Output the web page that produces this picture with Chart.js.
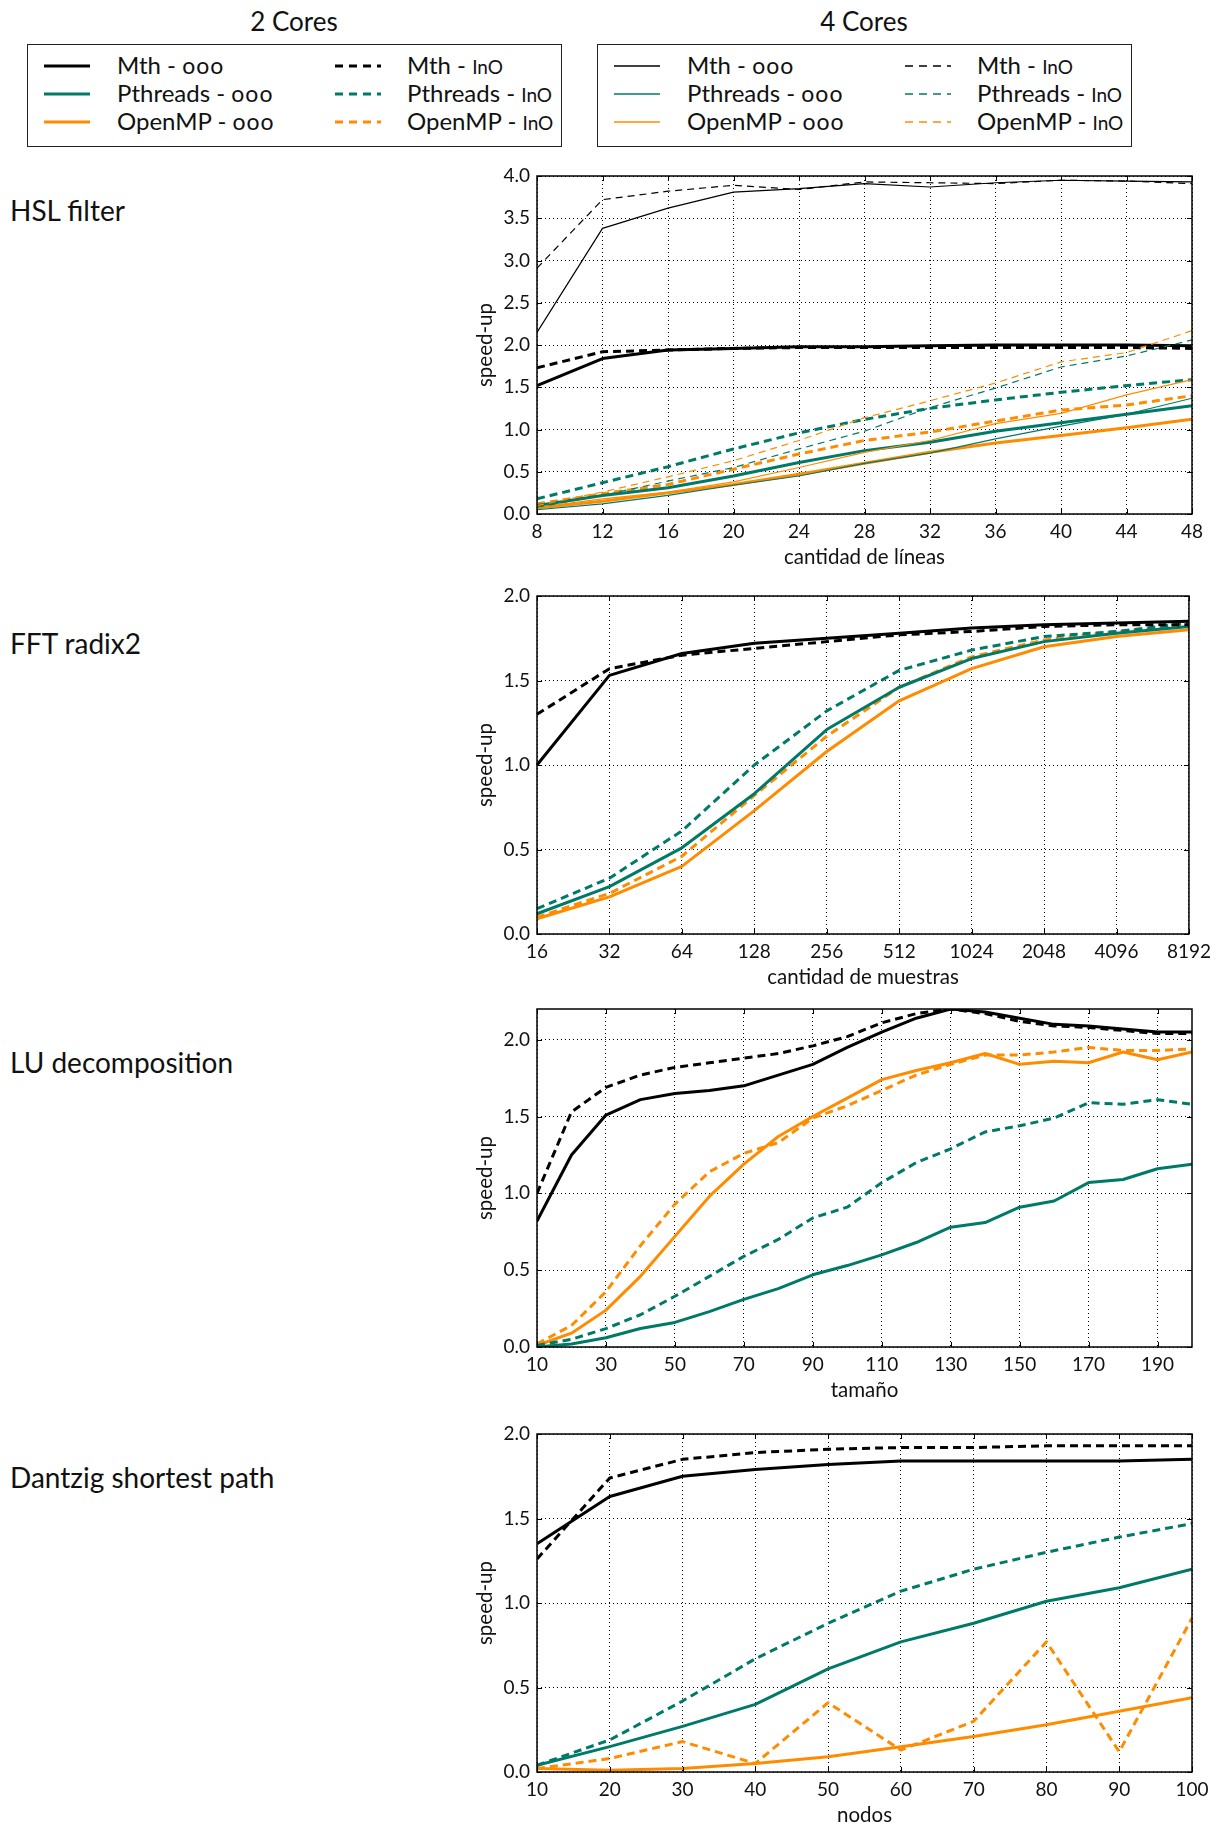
<!DOCTYPE html>
<html>
<head>
<meta charset="utf-8">
<script src="https://cdn.jsdelivr.net/npm/chart.js@4.4.1/dist/chart.umd.min.js"></script>
<style>
html,body{margin:0;padding:0;background:#fff;overflow:hidden}
body{width:1217px;height:1827px;position:relative;font-family:Lato,'Open Sans',sans-serif;color:#111}
.head{position:absolute;top:6px;width:300px;text-align:center;font-size:26px;line-height:30px}
.box{position:absolute;top:44px;width:535px;height:103px;border:1.5px solid #222;box-sizing:border-box}
.lab{position:absolute;font-size:24px;line-height:28px;white-space:nowrap}
.lab .oo{font-size:23px;letter-spacing:1px}
.lab .in{font-size:19px}
.smp{position:absolute}
.ttl{position:absolute;left:10px;font-size:28px;line-height:32px;white-space:nowrap}
canvas{position:absolute;left:440px}
</style>
</head>
<body>
<div id="legend"></div>
<div class="ttl" style="top:194px">HSL filter</div>
<div class="ttl" style="top:627px">FFT radix2</div>
<div class="ttl" style="top:1046px">LU decomposition</div>
<div class="ttl" style="top:1461px">Dantzig shortest path</div>
<canvas id="hsl" width="777" height="418"></canvas>
<canvas id="fft" width="777" height="418"></canvas>
<canvas id="lu" width="777" height="418"></canvas>
<canvas id="dz" width="777" height="418"></canvas>
<script>
// legend
const legendGroups = ['2 Cores', '4 Cores'];
const legendNames = ['Mth', 'Pthreads', 'OpenMP'];
const legendKinds = ['ooo', 'InO'];

// HSL filter
const hslX = [8, 12, 16, 20, 24, 28, 32, 36, 40, 44, 48];
const hslTicksY = [0, 0.5, 1, 1.5, 2, 2.5, 3, 3.5, 4];
const hslMthOoO2 = [1.52, 1.84, 1.94, 1.96, 1.98, 1.98, 1.99, 2.00, 2.00, 2.00, 1.99];
const hslMthInO2 = [1.73, 1.92, 1.94, 1.96, 1.97, 1.97, 1.97, 1.97, 1.97, 1.97, 1.96];
const hslPthOoO2 = [0.10, 0.22, 0.31, 0.45, 0.61, 0.75, 0.85, 0.98, 1.08, 1.18, 1.28];
const hslPthInO2 = [0.18, 0.37, 0.56, 0.77, 0.96, 1.12, 1.25, 1.35, 1.44, 1.52, 1.59];
const hslOmpOoO2 = [0.07, 0.15, 0.25, 0.35, 0.47, 0.60, 0.73, 0.84, 0.93, 1.02, 1.12];
const hslOmpInO2 = [0.12, 0.24, 0.35, 0.53, 0.71, 0.87, 0.97, 1.10, 1.23, 1.29, 1.40];
const hslMthOoO4 = [2.15, 3.38, 3.62, 3.81, 3.85, 3.91, 3.87, 3.92, 3.95, 3.94, 3.93];
const hslMthInO4 = [2.91, 3.72, 3.82, 3.89, 3.84, 3.93, 3.92, 3.91, 3.95, 3.94, 3.91];
const hslPthOoO4 = [0.05, 0.12, 0.22, 0.34, 0.45, 0.60, 0.72, 0.89, 1.04, 1.18, 1.37];
const hslPthInO4 = [0.08, 0.22, 0.39, 0.55, 0.77, 0.98, 1.26, 1.49, 1.74, 1.87, 2.06];
const hslOmpOoO4 = [0.08, 0.18, 0.26, 0.38, 0.55, 0.73, 0.87, 1.07, 1.19, 1.41, 1.59];
const hslOmpInO4 = [0.10, 0.26, 0.44, 0.63, 0.87, 1.14, 1.34, 1.55, 1.80, 1.91, 2.17];

// FFT radix2
const fftX = ['16', '32', '64', '128', '256', '512', '1024', '2048', '4096', '8192'];
const fftTicksY = [0, 0.5, 1, 1.5, 2];
const fftMthOoO = [1.00, 1.53, 1.66, 1.72, 1.75, 1.78, 1.81, 1.83, 1.84, 1.85];
const fftMthInO = [1.30, 1.57, 1.65, 1.69, 1.73, 1.77, 1.79, 1.82, 1.83, 1.83];
const fftPthOoO = [0.12, 0.28, 0.51, 0.83, 1.21, 1.46, 1.63, 1.73, 1.78, 1.82];
const fftPthInO = [0.15, 0.33, 0.61, 1.00, 1.32, 1.56, 1.68, 1.76, 1.79, 1.84];
const fftOmpOoO = [0.09, 0.22, 0.40, 0.73, 1.08, 1.38, 1.57, 1.70, 1.76, 1.80];
const fftOmpInO = [0.10, 0.24, 0.46, 0.82, 1.17, 1.46, 1.64, 1.74, 1.79, 1.82];

// LU decomposition
const luX = [10, 20, 30, 40, 50, 60, 70, 80, 90, 100, 110, 120, 130, 140, 150, 160, 170, 180, 190, 200];
const luTicksX = [10, 30, 50, 70, 90, 110, 130, 150, 170, 190];
const luTicksY = [0, 0.5, 1, 1.5, 2];
const luMthOoO = [0.82, 1.25, 1.51, 1.61, 1.65, 1.67, 1.70, 1.77, 1.84, 1.95, 2.05, 2.14, 2.20, 2.18, 2.14, 2.10, 2.09, 2.07, 2.05, 2.05];
const luMthInO = [1.00, 1.53, 1.69, 1.77, 1.82, 1.85, 1.88, 1.91, 1.96, 2.02, 2.11, 2.17, 2.20, 2.17, 2.12, 2.09, 2.08, 2.06, 2.04, 2.04];
const luPthOoO = [0.00, 0.02, 0.06, 0.12, 0.16, 0.23, 0.31, 0.38, 0.47, 0.53, 0.60, 0.68, 0.78, 0.81, 0.91, 0.95, 1.07, 1.09, 1.16, 1.19];
const luPthInO = [0.01, 0.05, 0.12, 0.21, 0.33, 0.46, 0.59, 0.70, 0.84, 0.91, 1.07, 1.20, 1.29, 1.40, 1.44, 1.49, 1.59, 1.58, 1.61, 1.58];
const luOmpOoO = [0.01, 0.09, 0.24, 0.46, 0.72, 0.98, 1.19, 1.37, 1.50, 1.62, 1.74, 1.80, 1.85, 1.91, 1.84, 1.86, 1.85, 1.92, 1.87, 1.92];
const luOmpInO = [0.02, 0.14, 0.36, 0.66, 0.93, 1.14, 1.26, 1.33, 1.49, 1.57, 1.67, 1.77, 1.84, 1.90, 1.90, 1.92, 1.95, 1.93, 1.93, 1.94];

// Dantzig shortest path
const dzX = [10, 20, 30, 40, 50, 60, 70, 80, 90, 100];
const dzTicksY = [0, 0.5, 1, 1.5, 2];
const dzMthOoO = [1.35, 1.63, 1.75, 1.79, 1.82, 1.84, 1.84, 1.84, 1.84, 1.85];
const dzMthInO = [1.26, 1.74, 1.85, 1.89, 1.91, 1.92, 1.92, 1.93, 1.93, 1.93];
const dzPthOoO = [0.04, 0.15, 0.27, 0.40, 0.61, 0.77, 0.88, 1.01, 1.09, 1.20];
const dzPthInO = [0.04, 0.19, 0.42, 0.67, 0.88, 1.07, 1.20, 1.30, 1.39, 1.47];
const dzOmpOoO = [0.02, 0.01, 0.02, 0.05, 0.09, 0.15, 0.21, 0.28, 0.36, 0.44];
const dzOmpInO = [0.02, 0.08, 0.18, 0.05, 0.41, 0.13, 0.30, 0.77, 0.12, 0.91];

const COL = ['#000000', '#007a68', '#ff8c00'];
const FONT = 'Lato, "Open Sans", sans-serif';
const PAD_TOP = 20;

// legend boxes, drawn as html
function renderLegend(){
  const wrap = document.querySelector('#legend');
  legendGroups.forEach((g, gi)=>{
    const off = gi*570;
    let html = `<div class="head" style="left:${144+off}px">${g}</div><div class="box" style="left:${27+off}px"></div>`;
    legendKinds.forEach((k, ki)=>{
      const sx = [44, 335][ki] + off, tx = [117, 407][ki] + off;
      legendNames.forEach((n, ni)=>{
        const cy = 66 + ni*28;
        const w = gi==0 ? 3.2 : 1.3;
        const dash = ki==1 ? 'stroke-dasharray="8 6"' : '';
        html += `<svg class="smp" style="left:${sx}px;top:${cy-5}px" width="46" height="10"><line x1="0" y1="5" x2="46" y2="5" stroke="${COL[ni]}" stroke-width="${w}" ${dash}/></svg>`;
        html += `<div class="lab" style="left:${tx}px;top:${cy-15}px">${n} - <span class="${ki ? 'in' : 'oo'}">${k}</span></div>`;
      });
    });
    wrap.insertAdjacentHTML('beforeend', html);
  });
}

function line(x, y, c, thick, dashed){
  return {
    data: x ? x.map((v, i)=>({x:v, y:y[i]})) : y,
    borderColor: COL[c], borderWidth: thick ? 3 : 1.2,
    borderDash: dashed ? (thick ? [8, 5] : [7, 5]) : [],
    borderCapStyle: 'butt', borderJoinStyle: 'round',
    pointRadius: 0, fill: false, tension: 0
  };
}

const Frame = {
  id: 'frame',
  afterDraw(chart){
    const {ctx, chartArea:{left, top, right, bottom}, scales:{x, y}} = chart;
    ctx.save();
    ctx.strokeStyle = '#000'; ctx.lineWidth = 1;
    ctx.beginPath();
    x.ticks.forEach((t, i)=>{
      const px = Math.round(x.getPixelForTick(i)) + 0.5;
      ctx.moveTo(px, bottom); ctx.lineTo(px, bottom-5);
      ctx.moveTo(px, top); ctx.lineTo(px, top+5);
    });
    y.ticks.forEach((t, i)=>{
      const py = Math.round(y.getPixelForTick(i)) + 0.5;
      ctx.moveTo(left, py); ctx.lineTo(left+5, py);
      ctx.moveTo(right, py); ctx.lineTo(right-5, py);
    });
    ctx.stroke();
    ctx.lineWidth = 1.5;
    ctx.strokeRect(left, top, right-left, bottom-top);
    ctx.restore();
  }
};

function makeChart(id, plotTop, o){
  const el = document.getElementById(id);
  el.style.top = (plotTop - PAD_TOP) + 'px';
  const tickFont = {family: FONT, size: 19};
  const titleFont = {family: FONT, size: 20.5};
  const grid = {color: '#000', lineWidth: 1, drawTicks: false};
  const x = o.labels ? {
    type: 'category', offset: false
  } : {
    type: 'linear', min: o.xMin, max: o.xMax,
    afterBuildTicks: s => { s.ticks = o.xTicks.map(v=>({value:v})); }
  };
  Object.assign(x, {
    grid: Object.assign({offset: false}, grid),
    border: {display: false, dash: [1, 3]},
    ticks: {font: tickFont, color: '#111', padding: 6, autoSkip: false, maxRotation: 0},
    title: {display: true, text: o.xTitle, font: titleFont, color: '#111', padding: {top: 0, bottom: 4}},
    afterFit: s => { s.height = 60; }
  });
  return new Chart(el.getContext('2d'), {
    type: 'line',
    data: {labels: o.labels, datasets: o.datasets},
    options: {
      responsive: false, animation: false,
      layout: {padding: {top: PAD_TOP, left: 0, right: 25, bottom: 0}},
      plugins: {legend: {display: false}, tooltip: {enabled: false}},
      scales: {
        x,
        y: {
          min: 0, max: o.yMax,
          afterBuildTicks: s => { s.ticks = o.yTicks.map(v=>({value:v})); },
          grid, border: {display: false, dash: [1, 3]},
          ticks: {font: tickFont, color: '#111', padding: 7, callback: v => Number(v).toFixed(1)},
          title: {display: true, text: 'speed-up', font: titleFont, color: '#111', padding: {top: 33, bottom: 0}},
          afterFit: s => { s.width = 97; }
        }
      }
    },
    plugins: [Frame]
  });
}

function init(){
  renderLegend();
  makeChart('hsl', 176, {
    xMin: 8, xMax: 48, xTicks: hslX, yMax: 4, yTicks: hslTicksY, xTitle: 'cantidad de líneas',
    datasets: [
      line(hslX, hslMthOoO4, 0, false, false), line(hslX, hslMthInO4, 0, false, true),
      line(hslX, hslPthOoO4, 1, false, false), line(hslX, hslPthInO4, 1, false, true),
      line(hslX, hslOmpOoO4, 2, false, false), line(hslX, hslOmpInO4, 2, false, true),
      line(hslX, hslMthOoO2, 0, true, false), line(hslX, hslMthInO2, 0, true, true),
      line(hslX, hslPthOoO2, 1, true, false), line(hslX, hslPthInO2, 1, true, true),
      line(hslX, hslOmpOoO2, 2, true, false), line(hslX, hslOmpInO2, 2, true, true)
    ]
  });
  makeChart('fft', 596, {
    labels: fftX, yMax: 2, yTicks: fftTicksY, xTitle: 'cantidad de muestras',
    datasets: [
      line(null, fftMthOoO, 0, true, false), line(null, fftMthInO, 0, true, true),
      line(null, fftPthOoO, 1, true, false), line(null, fftPthInO, 1, true, true),
      line(null, fftOmpOoO, 2, true, false), line(null, fftOmpInO, 2, true, true)
    ]
  });
  makeChart('lu', 1009, {
    xMin: 10, xMax: 200, xTicks: luTicksX, yMax: 2.2, yTicks: luTicksY, xTitle: 'tamaño',
    datasets: [
      line(luX, luMthOoO, 0, true, false), line(luX, luMthInO, 0, true, true),
      line(luX, luPthOoO, 1, true, false), line(luX, luPthInO, 1, true, true),
      line(luX, luOmpOoO, 2, true, false), line(luX, luOmpInO, 2, true, true)
    ]
  });
  makeChart('dz', 1434, {
    xMin: 10, xMax: 100, xTicks: dzX, yMax: 2, yTicks: dzTicksY, xTitle: 'nodos',
    datasets: [
      line(dzX, dzMthOoO, 0, true, false), line(dzX, dzMthInO, 0, true, true),
      line(dzX, dzPthOoO, 1, true, false), line(dzX, dzPthInO, 1, true, true),
      line(dzX, dzOmpOoO, 2, true, false), line(dzX, dzOmpInO, 2, true, true)
    ]
  });
}
document.addEventListener('DOMContentLoaded', init);
</script>
</body>
</html>
